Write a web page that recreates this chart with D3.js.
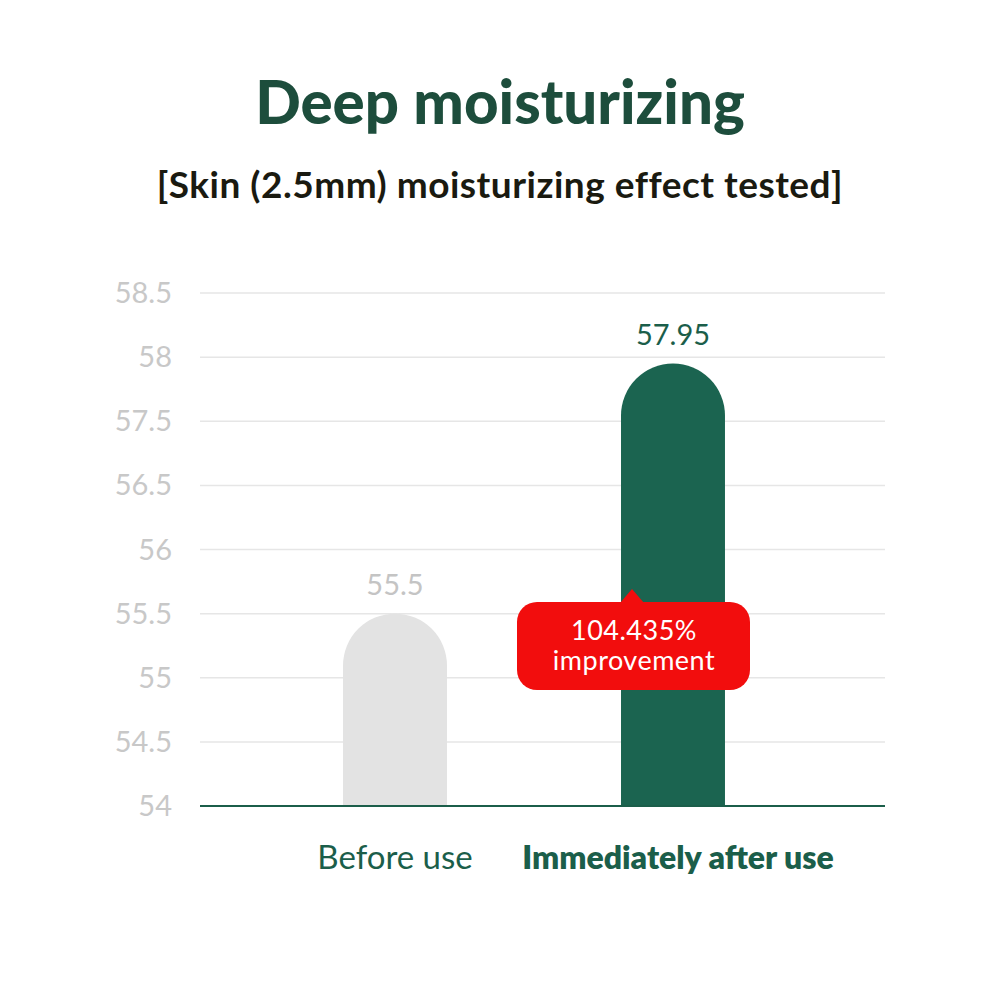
<!DOCTYPE html><html><head><meta charset="utf-8">
<script src="https://cdn.jsdelivr.net/npm/d3@7"></script>
<style>body{margin:0;background:#fff}</style></head><body>
<svg id="c" width="1000" height="1000"></svg>
<script>
const categories = ["Before use", "Immediately after use"];
const values = [55.5, 57.95];
const tickLabels = [58.5, 58, 57.5, 56.5, 56, 55.5, 55, 54.5, 54];
const callout = ["104.435%", "improvement"];

const svg = d3.select("#c");
const F = "Lato, 'Open Sans', sans-serif";
const green = "#1b5e4a";
svg.append("rect").attr("width",1000).attr("height",1000).attr("fill","#fff");
svg.append("text").attr("x",500).attr("y",124).attr("text-anchor","middle").attr("font-family",F)
  .attr("font-weight",900).attr("font-size",60).attr("fill","#1d4d3c").text("Deep moisturizing");
svg.append("text").attr("x",500).attr("y",198).attr("text-anchor","middle").attr("font-family",F)
  .attr("font-weight",700).attr("font-size",37).attr("letter-spacing",0.5).attr("fill","#1a1a10").text("[Skin (2.5mm) moisturizing effect tested]");

const pos = tickLabels.map((d,i)=>293+i*(806-293)/(tickLabels.length-1));
const y = d3.scaleLinear().domain(tickLabels).range(pos);
const x = d3.scaleBand().domain(categories).range([169,899]).paddingInner(0.626).paddingOuter(0.626);

svg.append("g").selectAll("line").data(tickLabels.slice(0,-1)).join("line")
  .attr("x1",200).attr("x2",885).attr("y1",d=>y(d)).attr("y2",d=>y(d)).attr("stroke","#e6e6e6").attr("stroke-width",1.5);
svg.append("g").selectAll("text").data(tickLabels).join("text")
  .attr("x",172).attr("y",d=>y(d)+10).attr("text-anchor","end").attr("font-family",F)
  .attr("font-size",29).attr("fill","#c8c8c8").text(d=>d);

const colors=["#e3e3e3","#1b6450"];
const data = categories.map((c,i)=>({c,v:values[i],col:colors[i],lc:i?green:"#c4c4c4"}));
data.forEach(d=>{
  const bw=x.bandwidth(), x0=x(d.c), r=bw/2, top=y(d.v)+r, bot=y(54);
  svg.append("path").attr("d",`M${x0},${bot}V${top}A${r},${r} 0 0 1 ${x0+bw},${top}V${bot}Z`).attr("fill",d.col);
  svg.append("text").attr("x",x0+r).attr("y",y(d.v)-19).attr("text-anchor","middle").attr("font-family",F)
    .attr("font-size",29).attr("fill",d.lc).text(d.v);
});
svg.append("line").attr("x1",200).attr("x2",885).attr("y1",y(54)).attr("y2",y(54)).attr("stroke",green).attr("stroke-width",2);

svg.selectAll(".xl").data(categories).join("text").attr("x",(d,i)=>x(d)+x.bandwidth()/2+(i?5:0)).attr("y",869)
  .attr("text-anchor","middle").attr("font-family",F).attr("font-size",(d,i)=>i?32:33)
  .attr("font-weight",(d,i)=>i?800:400).attr("fill",green).text(d=>d);

const g=svg.append("g");
g.append("rect").attr("x",517).attr("y",602).attr("width",233).attr("height",88).attr("rx",20).attr("fill","#f20d0d");
g.append("path").attr("d","M620,603L632,589L644,603Z").attr("fill","#f20d0d");
g.selectAll("text").data(callout).join("text").attr("x",634).attr("y",(d,i)=>640+i*30)
  .attr("text-anchor","middle").attr("font-family",F).attr("font-size",27).attr("letter-spacing",0.5).attr("fill","#fff").text(d=>d);
</script></body></html>
